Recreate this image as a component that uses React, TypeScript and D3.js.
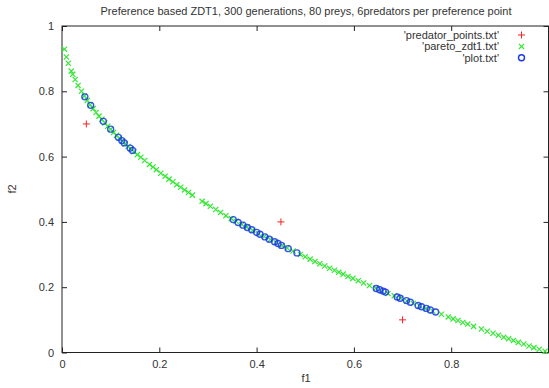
import { useEffect, useRef } from "react"
import * as d3 from "d3"

const title = "Preference based ZDT1, 300 generations, 80 preys, 6predators per preference point"

const predatorF1 = [0.05, 0.45, 0.7]
const predatorF2 = [0.7, 0.4, 0.1]

const paretoF1 = [
  0.005, 0.009, 0.013, 0.019, 0.022, 0.027, 0.033, 0.040, 0.046, 0.052, 0.058, 0.064, 0.070, 0.076, 0.082,
  0.088, 0.094, 0.100, 0.106, 0.112, 0.118, 0.124, 0.130, 0.136, 0.142, 0.148, 0.155, 0.162, 0.170, 0.180,
  0.187, 0.194, 0.203, 0.212, 0.220, 0.228, 0.236, 0.244, 0.252, 0.260, 0.268, 0.288, 0.296, 0.305, 0.316,
  0.326, 0.337, 0.348, 0.358, 0.370, 0.380, 0.392, 0.404, 0.416, 0.428, 0.440, 0.452, 0.463, 0.475, 0.490,
  0.500, 0.510, 0.520, 0.530, 0.540, 0.550, 0.560, 0.569, 0.578, 0.588, 0.598, 0.609, 0.620, 0.632, 0.645,
  0.657, 0.670, 0.683, 0.696, 0.709, 0.722, 0.735, 0.748, 0.762, 0.780, 0.794, 0.804, 0.814, 0.824, 0.834,
  0.846, 0.862, 0.874, 0.886, 0.897, 0.908, 0.918, 0.928, 0.938, 0.949, 0.960, 0.970, 0.981, 0.993,
]
const paretoF2 = [
  0.929, 0.905, 0.886, 0.862, 0.852, 0.836, 0.818, 0.800, 0.786, 0.772, 0.759, 0.747, 0.735, 0.724, 0.714,
  0.703, 0.693, 0.684, 0.674, 0.665, 0.656, 0.648, 0.639, 0.631, 0.623, 0.615, 0.606, 0.598, 0.588, 0.576,
  0.568, 0.560, 0.549, 0.540, 0.531, 0.523, 0.514, 0.506, 0.498, 0.490, 0.482, 0.463, 0.456, 0.448, 0.438,
  0.429, 0.419, 0.410, 0.402, 0.392, 0.384, 0.374, 0.364, 0.355, 0.346, 0.337, 0.328, 0.320, 0.311, 0.300,
  0.293, 0.286, 0.279, 0.272, 0.265, 0.258, 0.252, 0.246, 0.240, 0.233, 0.227, 0.220, 0.213, 0.205, 0.197,
  0.189, 0.181, 0.174, 0.166, 0.158, 0.150, 0.143, 0.135, 0.127, 0.117, 0.109, 0.103, 0.098, 0.092, 0.087,
  0.080, 0.072, 0.065, 0.059, 0.053, 0.047, 0.042, 0.037, 0.031, 0.026, 0.020, 0.015, 0.010, 0.004,
]

const plotF1 = [
  0.047, 0.059, 0.085, 0.100, 0.116, 0.123, 0.128, 0.140, 0.145,
  0.352, 0.362, 0.372, 0.381, 0.390, 0.400, 0.407, 0.417, 0.426, 0.437, 0.444, 0.451, 0.465, 0.483,
  0.646, 0.653, 0.660, 0.665, 0.689, 0.695, 0.708, 0.716, 0.732, 0.739, 0.749, 0.757, 0.768,
]
const plotF2 = [
  0.783, 0.757, 0.708, 0.684, 0.659, 0.649, 0.642, 0.626, 0.619,
  0.407, 0.398, 0.390, 0.383, 0.376, 0.368, 0.362, 0.354, 0.347, 0.339, 0.334, 0.328, 0.318, 0.305,
  0.196, 0.192, 0.188, 0.185, 0.170, 0.166, 0.159, 0.154, 0.144, 0.140, 0.135, 0.130, 0.124,
]

const legendLabels = ["'predator_points.txt'", "'pareto_zdt1.txt'", "'plot.txt'"]
const xTicks = [0, 0.2, 0.4, 0.6, 0.8, 1]
const yTicks = [0, 0.2, 0.4, 0.6, 0.8, 1]

const RED = "#ff2020"
const GREEN = "#33e833"
const BLUE = "#1a36e6"
const FONT = "'Liberation Sans', Arial, sans-serif"

export default function App() {
  const ref = useRef<SVGSVGElement>(null)

  useEffect(() => {
    if (!ref.current) return
    const root = d3.select(ref.current)
    root.selectAll("*").remove()

    const width = 549
    const height = 388
    const margin = { top: 26, right: 0, bottom: 35.5, left: 62 }
    const plotW = width - margin.left - margin.right - 0.5
    const plotH = height - margin.top - margin.bottom

    root.append("rect").attr("width", width).attr("height", height).attr("fill", "#fff")

    const x = d3.scaleLinear().domain([0, 1]).range([0, plotW])
    const y = d3.scaleLinear().domain([0, 1]).range([plotH, 0])

    const g = root.append("g").attr("transform", `translate(${margin.left},${margin.top})`)

    // axes with inward ticks, mirrored on all sides
    const tickLen = 5
    const xAxis = g.append("g").attr("transform", `translate(0,${plotH})`)
      .call(d3.axisBottom(x).tickValues(xTicks).tickSize(-tickLen).tickPadding(8)
        .tickFormat(d => (+d === 1 ? "" : d3.format("~g")(+d))))
    const xTop = g.append("g").call(d3.axisTop(x).tickValues(xTicks).tickSize(-tickLen).tickFormat(() => ""))
    const yAxis = g.append("g")
      .call(d3.axisLeft(y).tickValues(yTicks).tickSize(-tickLen).tickPadding(8).tickFormat(d => d3.format("~g")(+d)))
    const yRight = g.append("g").attr("transform", `translate(${plotW},0)`)
      .call(d3.axisRight(y).tickValues(yTicks).tickSize(-tickLen).tickFormat(() => ""))

    for (const a of [xAxis, xTop, yAxis, yRight]) {
      a.select(".domain").remove()
      a.selectAll("line").attr("stroke", "#222").attr("stroke-width", 1)
      a.selectAll("text").attr("fill", "#333").style("font-family", FONT).style("font-size", "11px")
    }

    g.append("rect")
      .attr("x", 0).attr("y", 0).attr("width", plotW).attr("height", plotH)
      .attr("fill", "none").attr("stroke", "#222").attr("stroke-width", 1)

    // pareto front: green x
    const s = 2.6
    const pareto = paretoF1.map((f, i) => ({ f1: f, f2: paretoF2[i] }))
    g.append("g").selectAll("path").data(pareto).enter().append("path")
      .attr("d", d => {
        const cx = x(d.f1), cy = y(d.f2)
        return `M${cx - s},${cy - s}L${cx + s},${cy + s}M${cx - s},${cy + s}L${cx + s},${cy - s}`
      })
      .attr("stroke", GREEN).attr("stroke-width", 1.2)

    // plot.txt: blue circles
    const plot = plotF1.map((f, i) => ({ f1: f, f2: plotF2[i] }))
    g.append("g").selectAll("circle").data(plot).enter().append("circle")
      .attr("cx", d => x(d.f1)).attr("cy", d => y(d.f2)).attr("r", 3)
      .attr("fill", "none").attr("stroke", BLUE).attr("stroke-width", 1.4).attr("opacity", 0.85)

    // predator points: red +
    const p = 3.5
    const preds = predatorF1.map((f, i) => ({ f1: f, f2: predatorF2[i] }))
    g.append("g").selectAll("path").data(preds).enter().append("path")
      .attr("d", d => {
        const cx = x(d.f1), cy = y(d.f2)
        return `M${cx - p},${cy}L${cx + p},${cy}M${cx},${cy - p}L${cx},${cy + p}`
      })
      .attr("stroke", RED).attr("stroke-width", 1)

    // legend
    const legend = root.append("g")
    legendLabels.forEach((label, i) => {
      const ly = 35 + i * 11.4
      legend.append("text")
        .attr("x", 499).attr("y", ly + 4)
        .attr("text-anchor", "end")
        .style("font-family", FONT).style("font-size", "11px").attr("fill", "#333")
        .text(label)
      const lx = 521.5
      if (i === 0) {
        legend.append("path").attr("d", `M${lx - p},${ly}L${lx + p},${ly}M${lx},${ly - p}L${lx},${ly + p}`)
          .attr("stroke", RED).attr("stroke-width", 1)
      } else if (i === 1) {
        legend.append("path").attr("d", `M${lx - s},${ly - s}L${lx + s},${ly + s}M${lx - s},${ly + s}L${lx + s},${ly - s}`)
          .attr("stroke", GREEN).attr("stroke-width", 1.2)
      } else {
        legend.append("circle").attr("cx", lx).attr("cy", ly).attr("r", 3)
          .attr("fill", "none").attr("stroke", BLUE).attr("stroke-width", 1.4)
      }
    })

    // titles
    root.append("text")
      .attr("x", 306).attr("y", 15).attr("text-anchor", "middle")
      .style("font-family", FONT).style("font-size", "11px").attr("fill", "#333")
      .text(title)
    root.append("text")
      .attr("x", 306).attr("y", 382).attr("text-anchor", "middle")
      .style("font-family", FONT).style("font-size", "11px").attr("fill", "#333")
      .text("f1")
    root.append("text")
      .attr("transform", `translate(16,189) rotate(-90)`).attr("text-anchor", "middle")
      .style("font-family", FONT).style("font-size", "11px").attr("fill", "#333")
      .text("f2")
  }, [])

  return (
    <div style={{ position: "absolute", left: 0, top: 0 }}>
      <svg ref={ref} width={549} height={388} style={{ display: "block" }}></svg>
    </div>
  )
}
